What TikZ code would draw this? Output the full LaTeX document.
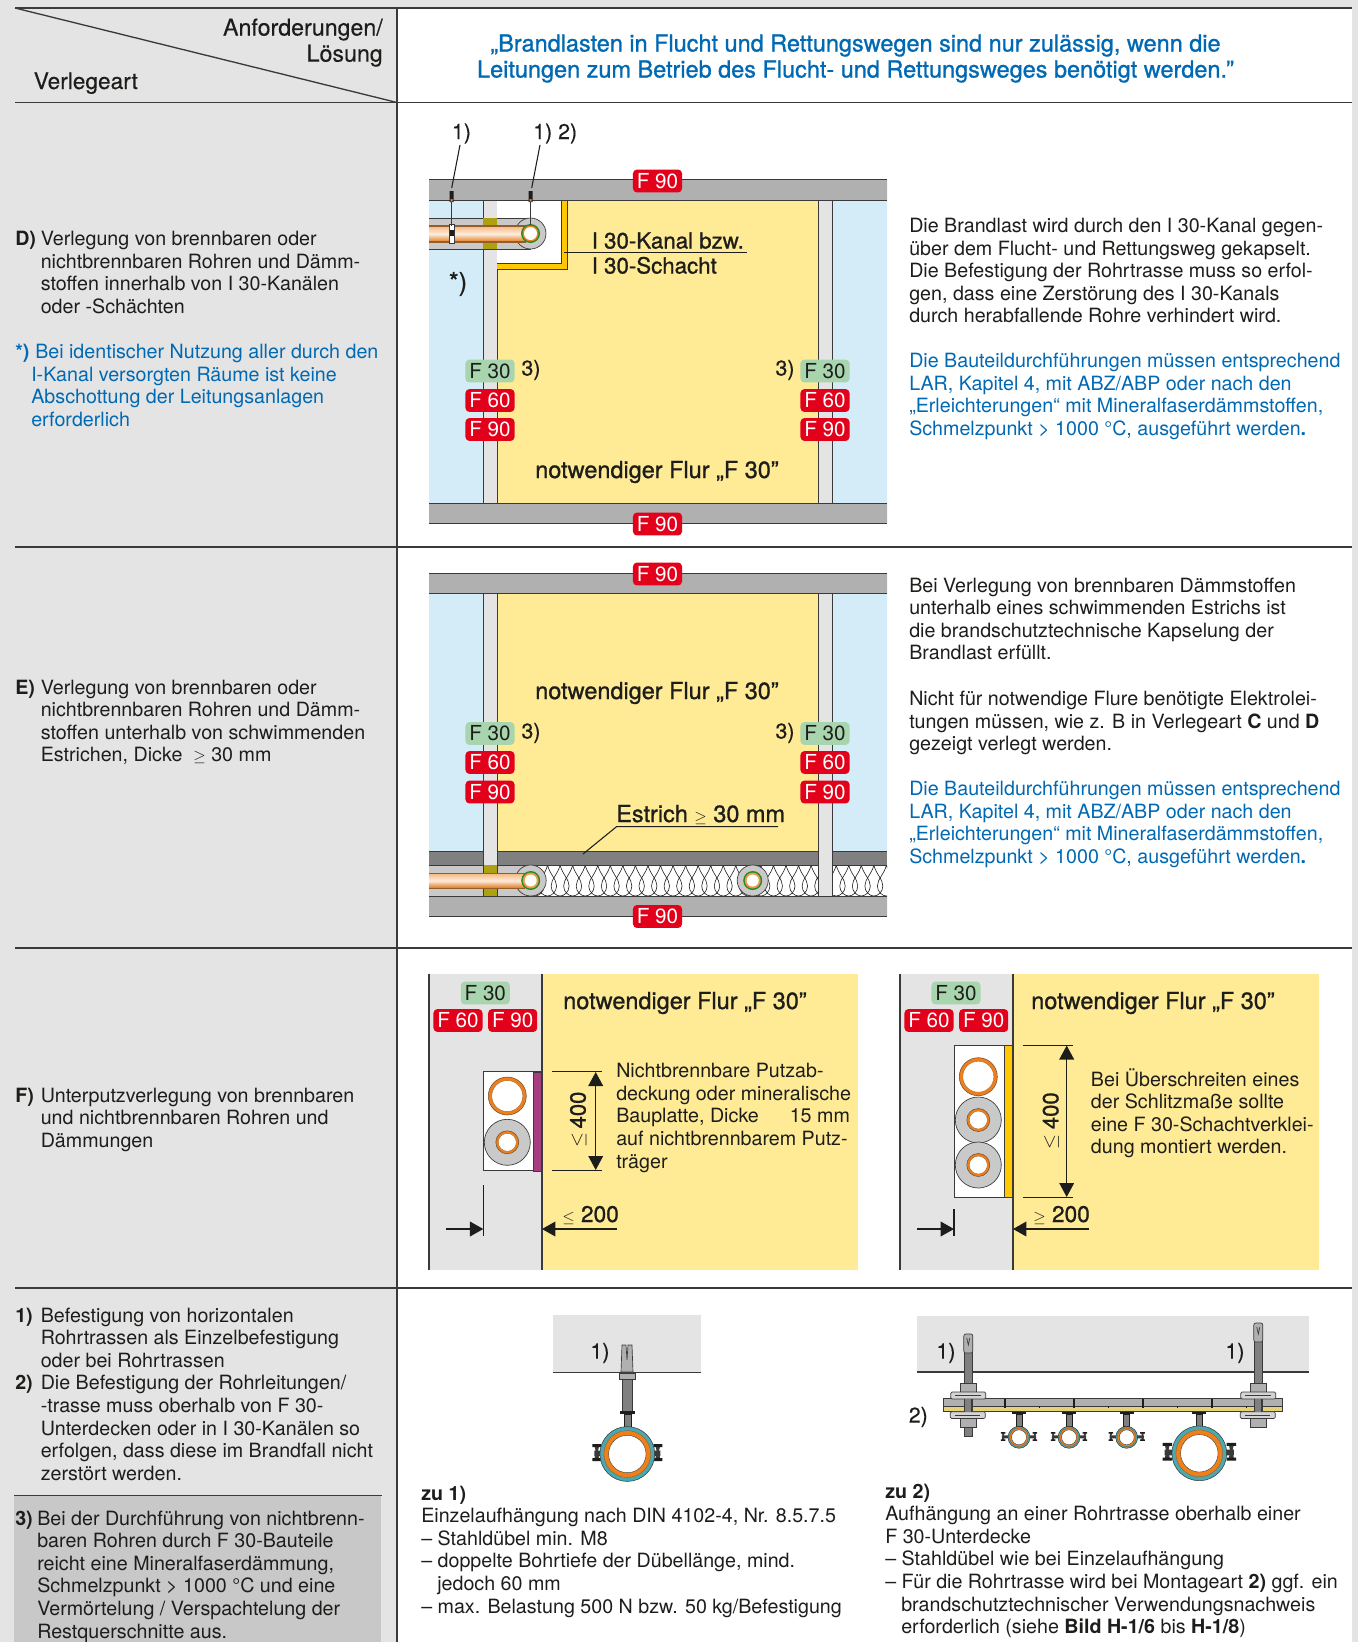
\documentclass[tikz,border=0pt]{standalone}
\usepackage{fontspec}
\setmainfont{TeX Gyre Heros}
\newfontfamily\medf[FakeBold=1.0]{TeX Gyre Heros}
\newfontfamily\lightf[FakeBold=0.3]{TeX Gyre Heros}
\usetikzlibrary{arrows.meta}
\definecolor{ink}{HTML}{1D1D1B}
\definecolor{lineC}{HTML}{3A3A3A}
\definecolor{colG}{HTML}{E4E4E4}
\definecolor{noteG}{HTML}{C8C8C8}
\definecolor{blueT}{HTML}{0069B4}
\definecolor{slabC}{HTML}{B0B0B0}
\definecolor{skyC}{HTML}{D4ECF8}
\definecolor{flurC}{HTML}{FFEB96}
\definecolor{ductC}{HTML}{FFC800}
\definecolor{oliveC}{HTML}{AFA010}
\definecolor{screedC}{HTML}{808080}
\definecolor{insC}{HTML}{C9C9C9}
\definecolor{orangeC}{HTML}{EE7F1A}
\definecolor{redB}{HTML}{E2001A}
\definecolor{greenB}{HTML}{A8D5AE}
\definecolor{purpleC}{HTML}{A83C80}
\definecolor{tealC}{HTML}{4AA8B0}
\definecolor{railY}{HTML}{E3D27A}
\newcommand{\tb}[1]{\begin{tabular}[t]{@{}l@{}}#1\end{tabular}}
\newcommand{\tbr}[1]{\begin{tabular}[t]{@{}r@{}}#1\end{tabular}}
\newcommand{\tbc}[1]{\begin{tabular}[t]{@{}c@{}}#1\end{tabular}}
\newcommand{\bodyfont}{\fontsize{14.75}{16.95}\selectfont}
\newcommand{\geS}{{\fontsize{12}{12}\selectfont$\geq$}}
\newcommand{\leS}{{\fontsize{12}{12}\selectfont$\leq$}}
\tikzset{
  tx/.style={anchor=base west,inner sep=0pt,text=ink,font=\bodyfont},
  txb/.style={tx,text=blueT},
  bt/.style={tx,font=\bfseries\bodyfont},
  hd/.style={tx,font=\lightf\fontsize{17.4}{19.6}\selectfont},
  md/.style={tx,font=\medf\fontsize{17.6}{19}\selectfont},
  mds/.style={tx,font=\medf\fontsize{16.7}{19}\selectfont},
  lab/.style={anchor=center,inner sep=0pt,text=ink,font=\lightf\fontsize{16}{18}\selectfont},
  badge/.style={anchor=center,inner sep=0pt,rounded corners=3pt,minimum width=36.8pt,minimum height=17.2pt,font=\fontsize{15.5}{17}\selectfont},
  redbadge/.style={badge,fill=redB,text=white},
  greenbadge/.style={badge,fill=greenB,text=ink},
  rule/.style={draw=lineC,line width=1pt},
  thin/.style={draw=lineC,line width=.7pt},
  leader/.style={draw=ink,line width=.8pt},
  dimline/.style={draw=ink,line width=1pt},
  dimarrow/.style={draw=ink,line width=1.1pt,{Triangle[length=10.5pt,width=11pt]}-{Triangle[length=10.5pt,width=11pt]}},
  onearrow/.style={draw=ink,line width=1.1pt,-{Triangle[length=10pt,width=11pt]}},
  foam/.style={draw=ink,line width=.45pt},
}
\newcommand{\pipering}[5]{%
  \ifdim#3pt>0pt \fill[insC,draw=lineC,line width=.5pt] (#1,#2) circle (#3);\fi
  \fill[orangeC,draw=lineC!70!orangeC,line width=.4pt] (#1,#2) circle (#4);
  \fill[white,draw=lineC!40!orangeC,line width=.3pt] (#1,#2) circle (#5);}
% pipe clamp: x y ring-scale ear-scale
\newcommand{\clampd}[4]{%
  \begin{scope}[shift={(#1,#2)},scale=#3]
    \begin{scope}[scale=#4]
    \fill[lineC] (-33,-9) -- (-28,-9) -- (-29.5,-2) -- (-28,5) -- (-33,5) -- (-31.5,-2) -- cycle (33,-9) -- (28,-9) -- (29.5,-2) -- (28,5) -- (33,5) -- (31.5,-2) -- cycle;
    \fill[ink] (-35,-10) rectangle (-26,-7) (-35,4) rectangle (-26,7) (26,-10) rectangle (35,-7) (26,4) rectangle (35,7);
    \fill[lineC] (-33,-3.5) rectangle (-20,2) (20,-3.5) rectangle (33,2);
    \end{scope}
    \fill[tealC,draw=lineC,line width=.4pt] (0,0) circle (27.4);
    \fill[orangeC,draw=lineC!60!orangeC,line width=.2pt] (0,0) circle (23.4);
    \fill[white,draw=lineC,line width=.3pt] (0,0) circle (18.7);
  \end{scope}}
\begin{document}
\begin{tikzpicture}[x=0.75pt,y=-0.75pt]
\useasboundingbox (0,0) rectangle (1358,1642);
% ---- page and grid
\fill[colG] (0,0) rectangle (1358,1642);
\fill[white] (397,8) rectangle (1352,1642);
\fill[noteG] (14,1496) rectangle (381,1642);
\coordinate (tl) at (15,8); \coordinate (tr) at (1352,8);
\coordinate (h1l) at (15,102.5); \coordinate (h1r) at (1352,102.5);
\coordinate (h2l) at (15,547); \coordinate (h2r) at (1352,547);
\coordinate (h3l) at (15,948); \coordinate (h3r) at (1352,948);
\coordinate (h4l) at (15,1288); \coordinate (h4r) at (1352,1288);
\coordinate (h5l) at (14,1495.5); \coordinate (h5r) at (382,1495.5);
\coordinate (vt) at (397,8); \coordinate (vb) at (397,1642);
\draw[rule] (tl)--(tr); \draw[rule] (h1l)--(h1r); \draw[rule] (h2l)--(h2r); \draw[rule] (h3l)--(h3r); \draw[rule] (h4l)--(h4r);
\draw[thin] (h5l)--(h5r);
\draw[rule] (vt)--(vb);
\draw[rule] (tl)--(397,102.5);
% ---- header
\node[hd,anchor=base east] (h1) at (383,35.5) {\tbr{Anforderungen/\\Lösung}};
\node[hd,font=\lightf\fontsize{17}{19}\selectfont] (h2) at (33.5,89) {Verlegeart};
\node[md,text=blueT,anchor=base,font=\medf\fontsize{17.6}{19.5}\selectfont] (h3) at (855.5,51.5) {\tbc{„Brandlasten in Flucht und Rettungswegen sind nur zulässig, wenn die\\Leitungen zum Betrieb des Flucht- und Rettungsweges benötigt werden.”}};
% ---- left column
\node[bt] (dL) at (15,245.5) {D)};
\node[tx] (dT) at (40.5,245.5) {\tb{Verlegung von brennbaren oder\\nichtbrennbaren Rohren und Dämm-\\stoffen innerhalb von I 30-Kanälen\\oder -Schächten}};
\node[bt,text=blueT] (sL) at (15,358.5) {*)};
\node[txb] (sT) at (31,358.5) {\tb{\hspace*{3pt}Bei identischer Nutzung aller durch den\\I-Kanal versorgten Räume ist keine\\Abschottung der Leitungsanlagen\\erforderlich}};
\node[bt] (eL) at (15,694) {E)};
\node[tx] (eT) at (40.5,694) {\tb{Verlegung von brennbaren oder\\nichtbrennbaren Rohren und Dämm-\\stoffen unterhalb von schwimmenden\\Estrichen, Dicke \ \geS{} 30 mm}};
\node[bt] (fL) at (15,1102) {F)};
\node[tx] (fT) at (40.5,1102) {\tb{Unterputzverlegung von brennbaren\\und nichtbrennbaren Rohren und\\Dämmungen}};
\node[bt] (n1L) at (15,1322) {\tb{1)\\ \\ \\2)}};
\node[tx] (n1T) at (40.5,1322) {\tb{Befestigung von horizontalen\\Rohrtrassen als Einzelbefestigung\\oder bei Rohrtrassen\\Die Befestigung der Rohrleitungen/\\-trasse muss oberhalb von F 30-\\Unterdecken oder in I 30-Kanälen so\\erfolgen, dass diese im Brandfall nicht\\zerstört werden.}};
\node[bt] (n3L) at (15,1525) {3)};
\node[tx] (n3T) at (37,1525) {\tb{Bei der Durchführung von nichtbrenn-\\baren Rohren durch F 30-Bauteile\\reicht eine Mineralfaserdämmung,\\Schmelzpunkt > 1000 °C und eine\\Vermörtelung / Verspachtelung der\\Restquerschnitte aus.}};
% ---- right text
\node[tx] (rd1) at (909,232.5) {\tb{Die Brandlast wird durch den I 30-Kanal gegen-\\über dem Flucht- und Rettungsweg gekapselt.\\Die Befestigung der Rohrtrasse muss so erfol-\\gen, dass eine Zerstörung des I 30-Kanals\\durch herabfallende Rohre verhindert wird.}};
\node[txb] (rd2) at (909,367.5) {\tb{Die Bauteildurchführungen müssen entsprechend\\LAR, Kapitel 4, mit ABZ/ABP oder nach den\\„Erleichterungen“ mit Mineralfaserdämmstoffen,\\Schmelzpunkt > 1000 °C, ausgeführt werden\textbf{.}}};
\node[tx] (re1) at (909,592) {\tb{Bei Verlegung von brennbaren Dämmstoffen\\unterhalb eines schwimmenden Estrichs ist\\die brandschutztechnische Kapselung der\\Brandlast erfüllt.}};
\node[tx] (re2) at (909,705.5) {\tb{Nicht für notwendige Flure benötigte Elektrolei-\\tungen müssen, wie z. B in Verlegeart \textbf{C} und \textbf{D}\\gezeigt verlegt werden.}};
\node[txb] (re3) at (909,795.5) {\tb{Die Bauteildurchführungen müssen entsprechend\\LAR, Kapitel 4, mit ABZ/ABP oder nach den\\„Erleichterungen“ mit Mineralfaserdämmstoffen,\\Schmelzpunkt > 1000 °C, ausgeführt werden\textbf{.}}};
\node[tx] (z1) at (421,1500) {\tb{\textbf{zu 1)}\\Einzelaufhängung nach DIN 4102-4, Nr. 8.5.7.5\\– Stahldübel min. M8\\– doppelte Bohrtiefe der Dübellänge, mind.\\\hspace*{12pt}jedoch 60 mm\\– max. Belastung 500 N bzw. 50 kg/Befestigung}};
\node[tx] (z2) at (885,1498) {\tb{\textbf{zu 2)}\\Aufhängung an einer Rohrtrasse oberhalb einer\\F 30-Unterdecke\\– Stahldübel wie bei Einzelaufhängung\\– Für die Rohrtrasse wird bei Montageart \textbf{2)} ggf. ein\\\hspace*{12pt}brandschutztechnischer Verwendungsnachweis\\\hspace*{12pt}erforderlich (siehe \textbf{Bild H-1/6} bis \textbf{H-1/8})}};
% ================ D figure
\fill[skyC] (429,200) rectangle (483,503) (832,200) rectangle (887,503);
\fill[flurC] (497,200) rectangle (818,503);
\fill[colG] (483,200) rectangle (497,503) (818,200) rectangle (832,503);
\draw[thin] (483,200)--(483,503) (497,200)--(497,503) (818,200)--(818,503) (832,200)--(832,503);
\fill[white] (497,200) rectangle (561,263);
\fill[ductC] (561,200) rectangle (567,269) (497,263) rectangle (567,269);
\draw[thin] (497,269)--(567.5,269)--(567.5,200) (497,263)--(561,263)--(561,200);
\fill[insC] (429,218) rectangle (531,249);
\draw[thin] (429,218)--(531,218) (429,249)--(531,249);
\fill[oliveC] (483,218) rectangle (497,249);
\fill[insC,draw=lineC,line width=.5pt] (530.5,233.5) circle (15.5);
\shade[top color=white!45!orangeC,bottom color=orangeC!95!black,middle color=white!85!orangeC] (429,226) rectangle (526,242);
\draw[draw=lineC!50!orangeC,line width=.8pt] (429,226)--(526,226) (429,242)--(526,242);
\fill[lineC!60!green] (530.5,233.5) circle (9.5);
\fill[orangeC] (530.5,233.5) circle (8);
\fill[white] (530.5,233.5) circle (6.5);
\coordinate (hg1t) at (451.5,192); \coordinate (hg1b) at (451.5,226);
\coordinate (hg2t) at (530.5,192); \coordinate (hg2b) at (530.5,225);
\fill[white,draw=lineC,line width=.4pt] (449,224) rectangle (454,243);
\fill[ink] (449.5,230) rectangle (453.5,236);
\fill[slabC] (429,179.5) rectangle (887,200) (429,503) rectangle (887,523);
\draw[thin] (429,179.5)--(887,179.5) (429,200)--(887,200) (429,503)--(887,503) (429,523)--(887,523);
\draw[draw=lineC,line width=1.2pt] (hg1t)--(hg1b) (hg2t)--(hg2b);
\fill[ink] (449.5,191) rectangle (453.5,202) (528.5,191) rectangle (532.5,202);
\fill[orangeC] (450.5,199) rectangle (452.5,201.5) (529.5,199) rectangle (531.5,201.5);
\node[lab] (l11) at (461.5,133.5) {1)};
\node[lab,anchor=west] (l12) at (533,133.5) {1) 2)};
\coordinate (ld1a) at (460,145); \coordinate (ld1b) at (451.7,188);
\coordinate (ld2a) at (540,145); \coordinate (ld2b) at (531.7,188);
\draw[leader] (ld1a)--(ld1b); \draw[leader] (ld2a)--(ld2b);
\node[lab,font=\medf\fontsize{19}{21}\selectfont] (lstar) at (458,284) {*)};
\node[mds] (kanal) at (591.5,248.5) {I 30-Kanal bzw.};
\node[mds] (schacht) at (591.5,273.5) {I 30-Schacht};
\coordinate (kl) at (564,252.7); \coordinate (kr) at (746.5,252.7);
\draw[leader] (kl)--(kr);
\node[md] (flD) at (535,478) {notwendiger Flur „F 30”};
\node[redbadge] (d90t) at (657.5,181) {F 90};
\node[redbadge] (d90b) at (657.5,524) {F 90};
\node[greenbadge] (d30l) at (490,371) {F 30};
\node[redbadge] (d60l) at (490,400.5) {F 60};
\node[redbadge] (d90l) at (490,429.5) {F 90};
\node[greenbadge] (d30r) at (825,371) {F 30};
\node[redbadge] (d60r) at (825,400.5) {F 60};
\node[redbadge] (d90r) at (825,429.5) {F 90};
\node[lab] (d3l) at (531,370) {3)};
\node[lab] (d3r) at (785,370) {3)};
% ================ E figure
\fill[skyC] (429,593) rectangle (483,851) (832,593) rectangle (887,851);
\fill[flurC] (497,593) rectangle (818,851);
\fill[screedC] (429,851) rectangle (887,865);
\draw[thin] (429,851)--(887,851);
\fill[white] (429,865) rectangle (887,896);
\begin{scope}
  \clip (535,865) rectangle (887,896);
  \foreach \k in {0,...,28}{
    \pgfmathsetmacro{\ca}{535+\k*12.55}
    \draw[foam] (\ca,865) .. controls (\ca+2,874) and (\ca+9,879) .. (\ca+9,886) .. controls (\ca+9,892) and (\ca+4,896) .. (\ca,896) .. controls (\ca-4,896) and (\ca-9,892) .. (\ca-9,886) .. controls (\ca-9,879) and (\ca-2,874) .. (\ca,865);
  }
\end{scope}
\draw[thin] (429,865)--(887,865) (429,896)--(887,896);
\fill[colG] (483,593) rectangle (497,865) (818,593) rectangle (832,896);
\draw[thin] (483,593)--(483,851) (497,593)--(497,851) (818,593)--(818,896) (832,593)--(832,896);
\fill[screedC] (497,851) rectangle (818,865);
\draw[thin] (497,851)--(818,851);
\fill[insC] (429,865) rectangle (531,896);
\draw[thin] (429,865)--(531,865);
\fill[oliveC] (483,865) rectangle (497,896);
\draw[thin] (483,865)--(483,896) (497,865)--(497,896);
\draw[thin] (483,851)--(483,865) (497,851)--(497,865);
\fill[insC,draw=lineC,line width=.5pt] (530.7,880.5) circle (15.5);
\shade[top color=white!45!orangeC,bottom color=orangeC!95!black,middle color=white!85!orangeC] (429,873.5) rectangle (525,888);
\draw[draw=lineC!50!orangeC,line width=.6pt] (429,873.5)--(525,873.5) (429,888)--(525,888);
\fill[insC,draw=lineC,line width=.5pt] (752.7,880.5) circle (15.5);
\foreach \cx in {530.7,752.7}{
  \fill[lineC!60!green] (\cx,880.5) circle (9.5);
  \fill[orangeC!80!white] (\cx,880.5) circle (8);
  \fill[white] (\cx,880.5) circle (6);
}
\fill[slabC] (429,573) rectangle (887,593) (429,896) rectangle (887,916);
\draw[thin] (429,573)--(887,573) (429,593)--(887,593) (429,896)--(887,896) (429,916)--(887,916);
\node[redbadge] (e90t) at (657.5,574) {F 90};
\node[redbadge] (e90b) at (657.5,916.5) {F 90};
\node[greenbadge] (e30l) at (490,733.5) {F 30};
\node[redbadge] (e60l) at (490,762.5) {F 60};
\node[redbadge] (e90l) at (490,792) {F 90};
\node[greenbadge] (e30r) at (825,733.5) {F 30};
\node[redbadge] (e60r) at (825,762.5) {F 60};
\node[redbadge] (e90r) at (825,792) {F 90};
\node[lab] (e3l) at (531,733) {3)};
\node[lab] (e3r) at (785,733) {3)};
\node[md] (flE) at (535,699) {notwendiger Flur „F 30”};
\node[md] (estr) at (616,822) {Estrich \geS{} 30 mm};
\coordinate (es1) at (778,826.7); \coordinate (es2) at (616.5,826.7); \coordinate (es3) at (583,854);
\draw[leader] (es1)--(es2)--(es3);
% ================ F left
\fill[colG] (429,973.5) rectangle (542,1270);
\fill[flurC] (542,973.5) rectangle (858,1270);
\draw[draw=lineC,line width=1.2pt] (429,973.5)--(429,1270) (542,973.5)--(542,1270);
\fill[white,draw=lineC,line width=.5pt] (483.3,1071.7) rectangle (541,1170.7);
\fill[purpleC,draw=lineC,line width=.3pt] (533.3,1071.7) rectangle (541,1170.7);
\pipering{507.3}{1096}{0}{19}{15.5}
\pipering{507.3}{1142.3}{23}{11.5}{9}
\node[greenbadge] (f30) at (485.3,993) {F 30};
\node[redbadge] (f60) at (458,1020.5) {F 60};
\node[redbadge] (f90) at (512.7,1020.5) {F 90};
\node[md] (flF) at (563,1009) {notwendiger Flur „F 30”};
\node[tx] (ftx) at (616,1077.7) {\tb{Nichtbrennbare Putzab-\\deckung oder mineralische\\Bauplatte, Dicke \hspace{15pt} 15 mm\\auf nichtbrennbarem Putz-\\träger}};
\coordinate (fa1) at (551.7,1071.7); \coordinate (fa2) at (602,1071.7);
\coordinate (fb1) at (551.7,1170.7); \coordinate (fb2) at (602,1170.7);
\coordinate (fc1) at (595.7,1072); \coordinate (fc2) at (595.7,1170);
\draw[dimline] (fa1)--(fa2); \draw[dimline] (fb1)--(fb2);
\draw[dimarrow] (fc1)--(fc2);
\node[lab,rotate=90,font=\medf\fontsize{16.5}{18}\selectfont] (f400) at (578,1110) {400};
\node[lab,rotate=90,font=\fontsize{14}{16}\selectfont] (fle) at (579,1140) {$\leq$};
\coordinate (fd1) at (446,1229); \coordinate (fd2) at (483.3,1229);
\coordinate (ft1) at (483.3,1185); \coordinate (ft2) at (483.3,1236);
\draw[onearrow] (fd1)--(fd2); \draw[dimline] (ft1)--(ft2);
\coordinate (fe1) at (617,1229); \coordinate (fe2) at (542,1229);
\draw[onearrow] (fe1)--(fe2);
\node[md,font=\medf\fontsize{17}{19}\selectfont] (f200) at (562,1222) {\leS{} 200};
% ================ F right
\fill[colG] (900,973.5) rectangle (1012.7,1270);
\fill[flurC] (1012.7,973.5) rectangle (1319,1270);
\draw[draw=lineC,line width=1.2pt] (900,973.5)--(900,1270) (1012.7,973.5)--(1012.7,1270);
\fill[white,draw=lineC,line width=.5pt] (954,1045.3) rectangle (1012,1197.3);
\fill[ductC,draw=lineC,line width=.3pt] (1004.3,1045.3) rectangle (1012,1197.3);
\pipering{978.3}{1076.7}{0}{19}{15.5}
\pipering{978.3}{1120}{23}{11.5}{9}
\pipering{978.3}{1165}{23}{11.5}{9}
\node[greenbadge] (g30) at (956,993) {F 30};
\node[redbadge] (g60) at (929,1020.5) {F 60};
\node[redbadge] (g90) at (983.7,1020.5) {F 90};
\node[md] (flG) at (1031,1009) {notwendiger Flur „F 30”};
\node[tx] (gtx) at (1090.7,1086) {\tb{Bei Überschreiten eines\\der Schlitzmaße sollte\\eine F 30-Schachtverklei-\\dung montiert werden.}};
\coordinate (ga1) at (1022.7,1045.3); \coordinate (ga2) at (1073,1045.3);
\coordinate (gb1) at (1022.7,1197.3); \coordinate (gb2) at (1073,1197.3);
\coordinate (gc1) at (1066.7,1045.5); \coordinate (gc2) at (1066.7,1197);
\draw[dimline] (ga1)--(ga2); \draw[dimline] (gb1)--(gb2);
\draw[dimarrow] (gc1)--(gc2);
\node[lab,rotate=90,font=\medf\fontsize{16.5}{18}\selectfont] (g400) at (1050.7,1110.7) {400};
\node[lab,rotate=90,font=\fontsize{14}{16}\selectfont] (gle) at (1051.5,1141.7) {$\leq$};
\coordinate (gd1) at (917,1229); \coordinate (gd2) at (954,1229);
\coordinate (gt1) at (954,1209); \coordinate (gt2) at (954,1236);
\draw[onearrow] (gd1)--(gd2); \draw[dimline] (gt1)--(gt2);
\coordinate (ge1) at (1089,1229); \coordinate (ge2) at (1013,1229);
\draw[onearrow] (ge1)--(ge2);
\node[md,font=\medf\fontsize{17}{19}\selectfont] (g200) at (1033,1222) {\geS{} 200};
% ================ bottom left figure
\fill[colG] (552.7,1315) rectangle (700.7,1372.7);
\draw[rule] (552.7,1372.7)--(700.7,1372.7);
\node[lab] (b1) at (600,1353) {1)};
\fill[slabC,draw=lineC,line width=.5pt] (622,1345) -- (626,1345) -- (627,1360) -- (628,1345) -- (632,1345) -- (633,1372) -- (621,1372) -- cycle;
\fill[slabC,draw=lineC,line width=.5pt] (619,1373) rectangle (635.5,1379.5);
\fill[screedC,draw=lineC,line width=.5pt] (622.3,1379.5) rectangle (632.5,1411);
\fill[ink] (620,1411) rectangle (635,1413.5);
\fill[screedC,draw=ink,line width=.5pt] (624,1414) rectangle (631,1427);
\clampd{627.3}{1454}{1}{1}
% ================ bottom right figure
\fill[colG] (916.7,1316) rectangle (1309.3,1372);
\draw[rule] (916.7,1372)--(1309.3,1372);
\node[lab] (b2) at (946,1353) {1)};
\node[lab] (b3) at (1235,1353) {1)};
\node[lab] (b4) at (918.3,1417) {2)};
\fill[slabC] (943.3,1398.3) rectangle (1282.7,1406);
\fill[railY] (943.3,1406) rectangle (1282.7,1411.7);
\draw[draw=lineC,line width=.7pt] (943.3,1398.3) rectangle (1282.7,1411.7);
\draw[draw=lineC,line width=.35pt] (943.3,1406)--(1282.7,1406);
\foreach \tx in {1005,1074,1143,1212}{\fill[ink] (\tx-.7,1399) rectangle (\tx+.7,1407.5);}
\foreach \tx in {1039,1108,1177,1246}{\fill[ink] (\tx-.5,1405.5) rectangle (\tx+.5,1408);}
\foreach \bx/\by/\bb in {968.3/1334/1436,1258.3/1323/1427}{
  \fill[screedC,draw=lineC,line width=.5pt] (\bx-4,\by+18) rectangle (\bx+4,\bb);
  \fill[slabC,draw=lineC,line width=.5pt,rounded corners=1.5pt] (\bx-4.5,\by) rectangle (\bx+4.5,\by+19);
  \draw[lineC,line width=.5pt] (\bx-1.5,\by+4)--(\bx,\by+11)--(\bx+1.5,\by+4);
  \fill[slabC,draw=lineC,line width=.5pt] (\bx-8,1383.5) rectangle (\bx+8,1392);
  \fill[colG!70!slabC,draw=lineC,line width=.5pt,rounded corners=1pt] (\bx-17.5,1392) rectangle (\bx+17.5,1399);
  \draw[lineC,line width=.5pt] (\bx-13,1395.5)--(\bx+13,1395.5);
  \fill[colG!70!slabC,draw=lineC,line width=.5pt,rounded corners=1pt] (\bx-18,1411.7) rectangle (\bx+17,1418.5);
  \draw[lineC,line width=.5pt] (\bx-13,1415)--(\bx+12,1415);
  \fill[slabC,draw=lineC,line width=.5pt] (\bx-8,1418.5) rectangle (\bx+8,1427);
  \fill[lineC] (\bx-4,1399) rectangle (\bx+4,1411.7);
  \fill[screedC] (\bx-3,1399) rectangle (\bx+3,1411.7);
}
\foreach \cx/\cy/\cs/\es in {1019/1437.3/.4/1.3,1069/1437.3/.4/1.3,1126.7/1437.3/.4/1.3,1199.3/1453.3/1/1.05}{
  \fill[ink] (\cx-7,1411.7) rectangle (\cx+7,1414);
  \fill[screedC,draw=ink,line width=.5pt] (\cx-3,1414) rectangle (\cx+3,\cy-\cs*27);
  \clampd{\cx}{\cy}{\cs}{\es}
}
\end{tikzpicture}
\end{document}
